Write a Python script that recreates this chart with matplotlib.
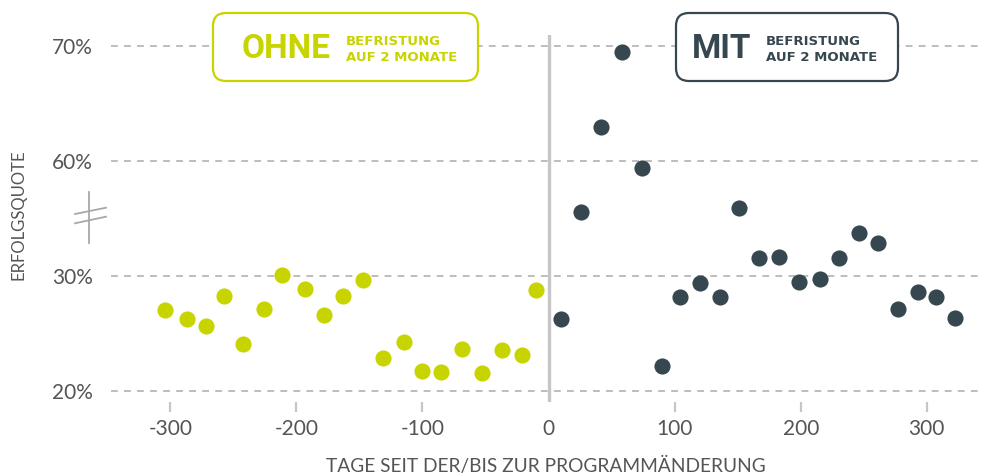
import numpy as np
import matplotlib
matplotlib.use("Agg")
import matplotlib.pyplot as plt
from matplotlib.patches import FancyBboxPatch
from matplotlib.lines import Line2D

plt.rcParams['axes.unicode_minus'] = False

# Daten: Tage seit/bis zur Programmaenderung und Erfolgsquote in %
days_ohne = [-304, -287, -272, -257, -242, -226, -211, -193, -178, -163,
             -147, -131, -115, -100, -85, -69, -53, -37, -21, -10]
quote_ohne = [27.1, 26.3, 25.7, 28.3, 24.1, 27.2, 30.4, 28.9, 26.6, 28.3,
              29.7, 22.9, 24.3, 21.8, 21.7, 23.7, 21.6, 23.6, 23.2, 28.8]

days_mit = [10, 26, 42, 58, 74, 90, 104, 120, 136, 151, 167,
            183, 199, 215, 230, 246, 261, 277, 293, 307, 322]
quote_mit = [26.3, 46.9, 63.0, 69.5, 58.3, 22.2, 28.2, 29.4, 28.2, 47.7, 34.9,
             35.1, 29.5, 29.8, 34.9, 41.4, 38.8, 27.2, 28.6, 28.2, 26.4]

x_ticks = [-300, -200, -100, 0, 100, 200, 300]
y_ticks = [20, 30, 60, 70]
y_ticklabels = ["20%", "30%", "60%", "70%"]

c_ohne = "#c8d400"
c_mit = "#36474f"
c_grid = "#bdbdbd"
c_text = "#555555"

W, H = 981, 476


def px(x, y):
    # Pixel (von oben links) -> Figure-Koordinaten
    return x / W, 1 - y / H


# gebrochene y-Achse: 20-30 und 60-70 normal, 30-60 gestaucht
def fwd(v):
    v = np.asarray(v, dtype=float)
    return np.where(v <= 30, (v - 20) / 10,
                    np.where(v <= 60, 1 + (v - 30) / 30, 2 + (v - 60) / 10))


def inv(d):
    d = np.asarray(d, dtype=float)
    return np.where(d <= 1, 20 + d * 10,
                    np.where(d <= 2, 30 + (d - 1) * 30, 60 + (d - 2) * 10))


fig = plt.figure(figsize=(W / 100, H / 100), dpi=100)
left, top = px(111, 35)
right, bottom = px(981, 402)
ax = fig.add_axes([left, bottom, right - left, top - bottom])

ax.set_yscale('function', functions=(fwd, inv))
ax.set_ylim(19.07, 70.99)
ax.set_xlim(-347, 343)

ax.scatter(days_ohne, quote_ohne, s=135, color=c_ohne, linewidths=0, zorder=3)
ax.scatter(days_mit, quote_mit, s=135, color=c_mit, linewidths=0, zorder=3)

ax.axvline(0, color="#c6c6c6", lw=2.4, zorder=2)

ax.set_yticks(y_ticks)
ax.set_yticklabels(y_ticklabels)
ax.set_xticks(x_ticks)
ax.set_xticklabels([str(t) for t in x_ticks])
ax.yaxis.grid(True, color=c_grid, lw=1.4, linestyle=(0, (3.5, 3.2)))
ax.tick_params(axis='y', length=0, pad=13, labelsize=15, labelcolor=c_text)
ax.tick_params(axis='x', length=7, width=1.6, color="#c6c6c6", pad=5,
               labelsize=15, labelcolor=c_text)
ax.xaxis.get_major_ticks()[3].tick1line.set_visible(False)
for lab in ax.get_xticklabels() + ax.get_yticklabels():
    lab.set_family(['Lato', 'DejaVu Sans'])
for s in ax.spines.values():
    s.set_visible(False)

# Achsenbeschriftungen
fig.text(*px(546, 466), "TAGE SEIT DER/BIS ZUR PROGRAMMÄNDERUNG", ha='center',
         va='center', fontsize=13.8, color=c_text, family=['Lato', 'DejaVu Sans'])
fig.text(*px(19, 215), "ERFOLGSQUOTE", rotation=90, ha='center', va='center',
         fontsize=12, color=c_text, family=['Lato', 'DejaVu Sans'])

# Bruchzeichen an der y-Achse
brk = "#a8a8a8"
fig.add_artist(Line2D(*zip(px(89, 192), px(89, 243)), color=brk, lw=1.3))
fig.add_artist(Line2D(*zip(px(75, 214), px(106, 207.7)), color=brk, lw=1.3))
fig.add_artist(Line2D(*zip(px(75, 223.3), px(106, 216.7)), color=brk, lw=1.3))

# Boxen oben
for x0, x1, col, big, bx, sx in [(213, 478, c_ohne, "OHNE", 242, 346),
                                 (676, 898, c_mit, "MIT", 692, 766)]:
    x_a, y_a = px(x0, 81)
    x_b, y_b = px(x1, 13)
    box = FancyBboxPatch((x_a, y_a), x_b - x_a, y_b - y_a,
                         boxstyle="round,pad=0,rounding_size=%f" % (13 / W),
                         mutation_aspect=W / H, transform=fig.transFigure,
                         facecolor="white", edgecolor=col, lw=1.6, zorder=5)
    fig.add_artist(box)
    fig.text(*px(bx, 49), big, ha='left', va='center', fontsize=24,
             fontweight='bold', color=col, zorder=6,
             family=['Roboto', 'DejaVu Sans'])
    fig.text(*px(sx, 41.5), "BEFRISTUNG", ha='left', va='center', fontsize=9.5,
             fontweight='bold', color=col, zorder=6, family=['DejaVu Sans'])
    fig.text(*px(sx, 57.5), "AUF 2 MONATE", ha='left', va='center', fontsize=9.5,
             fontweight='bold', color=col, zorder=6, family=['DejaVu Sans'])

fig.savefig("out.png", dpi=100)
